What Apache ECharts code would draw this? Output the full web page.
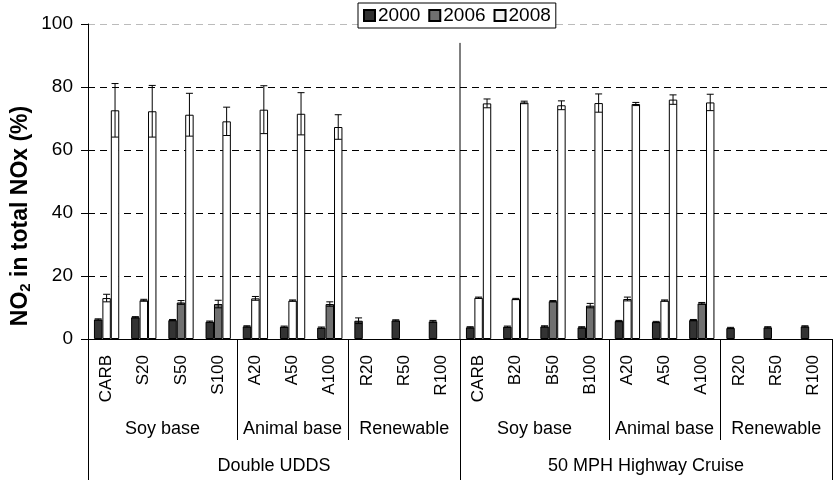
<!DOCTYPE html>
<html><head><meta charset="utf-8">
<script src="https://cdn.jsdelivr.net/npm/echarts@6/dist/echarts.min.js"></script>
<style>html,body{margin:0;padding:0;background:#fff}#c{width:836px;height:480px}</style>
</head><body><div id="c"></div>
<script>
// ---- data ----
const categories = ['CARB','S20','S50','S100','A20','A50','A100','R20','R50','R100',
                    'CARB','B20','B50','B100','A20','A50','A100','R20','R50','R100'];
const groupLabels = ['Soy base','Animal base','Renewable','Soy base','Animal base','Renewable'];
const groupSizes = [4,3,3,4,3,3];
const cycleLabels = ['Double UDDS','50 MPH Highway Cruise'];
const cycleSizes = [10,10];
const legendNames = ['2000','2006','2008'];
const yTicks = [0,20,40,60,80,100];

const v2000 = [6.2,6.9,6.0,5.5,4.0,3.9,3.6,5.8,5.9,5.6, 3.7,3.9,4.0,3.7,5.7,5.4,6.0,3.5,3.7,4.0];
const e2000 = [0.2,0.2,0.2,0.2,0.2,0.2,0.2,0.9,0.2,0.3, 0.2,0.2,0.2,0.2,0.2,0.2,0.2,0.2,0.2,0.2];
const v2006 = [null,null,11.6,11.1,null,null,11.1,null,null,null, null,null,12.0,10.6,null,null,11.3,null,null,null];
const e2006 = [null,null,0.6,1.2,null,null,0.7,null,null,null, null,null,0.2,0.7,null,null,0.3,null,null,null];
const vMidWhite = [13.0,12.3,null,null,12.9,12.2,null,null,null,null, 13.1,12.7,null,null,12.7,12.2,null,null,null,null];
const eMidWhite = [1.2,0.3,null,null,0.6,0.2,null,null,null,null, 0.2,0.2,null,null,0.6,0.2,null,null,null,null];
const v2008 = [72.6,72.3,71.2,69.1,72.8,71.5,67.3,null,null,null, 74.8,75.1,74.2,74.9,74.6,76.0,75.1,null,null,null];
const e2008 = [8.5,8.2,6.8,4.5,7.6,6.7,3.9,null,null,null, 1.4,0.4,1.4,2.9,0.5,1.5,2.6,null,null,null];
const dividerAfter = 9;   // separator between the two test cycles
const dividerTop = 94;

// ---- helpers ----
const FONT = 'Liberation Sans, Arial, sans-serif';
function pointAxis(labels, sizes){
  const n = sizes.reduce((a,b)=>a+b,0);
  const arr = new Array(2*n+1).fill('');
  const bounds = [0];
  let pos = 0;
  sizes.forEach((s,i)=>{ arr[2*pos + s] = labels[i]; pos += s; bounds.push(2*pos); });
  return {arr, bounds};
}
const lvl2 = pointAxis(groupLabels, groupSizes);
const lvl3 = pointAxis(cycleLabels, cycleSizes);

function errRows(vals, errs){
  const out = [];
  vals.forEach((v,i)=>{ if(v!=null && errs[i]!=null) out.push([i, v, errs[i]]); });
  return out;
}
const GAP = 0.32;
function errSeries(rows, slot){
  return {
    type:'custom', xAxisIndex:0, yAxisIndex:0, z:5, silent:true,
    data: rows, encode:{x:0,y:1},
    renderItem(params, api){
      const i = api.value(0), v = api.value(1), e = api.value(2);
      const band = api.size([1,0])[0];
      const bw = band*(1-GAP)/3;
      const cx = api.coord([i, v])[0] + (slot-1)*bw;
      const yHi = api.coord([i, v+e])[1], yLo = api.coord([i, v-e])[1];
      const hw = 3.5;
      const st = {stroke:'#000', lineWidth:1};
      return {type:'group', children:[
        {type:'line', shape:{x1:cx,y1:yHi,x2:cx,y2:yLo}, style:st},
        {type:'line', shape:{x1:cx-hw,y1:yHi,x2:cx+hw,y2:yHi}, style:st},
        {type:'line', shape:{x1:cx-hw,y1:yLo,x2:cx+hw,y2:yLo}, style:st}
      ]};
    }
  };
}

const chart = echarts.init(document.getElementById('c'), null, {renderer:'canvas'});
const barBase = {type:'bar', xAxisIndex:0, yAxisIndex:0, barGap:'0%', barCategoryGap:(GAP*100)+'%'};
const option = {
  animation:false,
  textStyle:{fontFamily:FONT},
  legend:{
    data:[{name:legendNames[0]},{name:legendNames[1]},{name:legendNames[2], itemStyle:{color:'#eeeeee'}}],
    icon:'rect',
    top:3, left:358, itemWidth:11, itemHeight:11, itemGap:8,
    borderColor:'#000', borderWidth:1, backgroundColor:'#fff', padding:[3,5,3,5],
    textStyle:{fontSize:19, color:'#000', fontFamily:FONT, padding:[0,0,0,-2]}
  },
  grid:{left:88, right:4, top:24, bottom:141, outerBoundsMode:'none'},
  xAxis:[
    {type:'category', data:categories, gridIndex:0, position:'bottom',
     axisLine:{lineStyle:{color:'#000'}},
     axisTick:{interval:0, length:65, lineStyle:{color:'#000'}},
     axisLabel:{interval:0, rotate:90, margin:16, fontSize:17, color:'#000', fontFamily:FONT}},
    {type:'category', data:lvl2.arr, gridIndex:0, position:'bottom', offset:0, boundaryGap:false,
     axisLine:{show:false},
     axisTick:{interval:(idx)=>lvl2.bounds.indexOf(idx)>=0, length:101, lineStyle:{color:'#000'}},
     axisLabel:{interval:0, margin:81, fontSize:18, color:'#000', fontFamily:FONT}},
    {type:'category', data:lvl3.arr, gridIndex:0, position:'bottom', offset:0, boundaryGap:false,
     axisLine:{show:false},
     axisTick:{interval:(idx)=>lvl3.bounds.indexOf(idx)>=0, length:141, lineStyle:{color:'#000'}},
     axisLabel:{interval:0, margin:118, fontSize:18, color:'#000', fontFamily:FONT}}
  ],
  yAxis:{type:'value', min:yTicks[0], max:yTicks[yTicks.length-1], interval:20,
    axisLine:{show:true, lineStyle:{color:'#000'}},
    axisTick:{show:true, length:7, lineStyle:{color:'#000'}},
    axisLabel:{margin:15, fontSize:19, color:'#000', fontFamily:FONT},
    splitLine:{show:true, lineStyle:{color:['#000','#000','#000','#000','#000','#bbb'], type:[7,5], width:1}}
  },
  series:[
    Object.assign({}, barBase, {name:'2000', data:v2000, itemStyle:{color:'#333333', borderColor:'#000', borderWidth:1}}),
    Object.assign({}, barBase, {name:'2006', stack:'mid', data:v2006, itemStyle:{color:'#707070', borderColor:'#000', borderWidth:1}}),
    Object.assign({}, barBase, {name:'2006 (light)', stack:'mid', data:vMidWhite, itemStyle:{color:'#ffffff', borderColor:'#000', borderWidth:1}}),
    Object.assign({}, barBase, {name:'2008', data:v2008, itemStyle:{color:'#ffffff', borderColor:'#000', borderWidth:1}}),
    errSeries(errRows(v2000,e2000), 0),
    errSeries(errRows(v2006,e2006), 1),
    errSeries(errRows(vMidWhite,eMidWhite), 1),
    errSeries(errRows(v2008,e2008), 2),
    {type:'custom', xAxisIndex:0, yAxisIndex:0, silent:true, z:6,
     data:[[dividerAfter, dividerTop]], encode:{x:0,y:1},
     renderItem(params, api){
       const band = api.size([1,0])[0];
       const p = api.coord([api.value(0), api.value(1)]);
       const x = p[0] + band/2;
       const y0 = api.coord([api.value(0), 0])[1];
       return {type:'line', shape:{x1:x,y1:p[1],x2:x,y2:y0}, style:{stroke:'#000', lineWidth:1}};
     }}
  ],
  graphic:[{
    type:'text', rotation:Math.PI/2, x:21, y:216,
    style:{
      text:'{a|NO}{s|2}{a| in total NOx (%)}',
      align:'center', verticalAlign:'middle',
      rich:{a:{fontSize:23, fontWeight:'bold', fontFamily:FONT, fill:'#000'},
            s:{fontSize:15, fontWeight:'bold', fontFamily:FONT, fill:'#000', padding:[10,0,0,0]}}
    }
  }]
};
chart.setOption(option);
</script></body></html>
